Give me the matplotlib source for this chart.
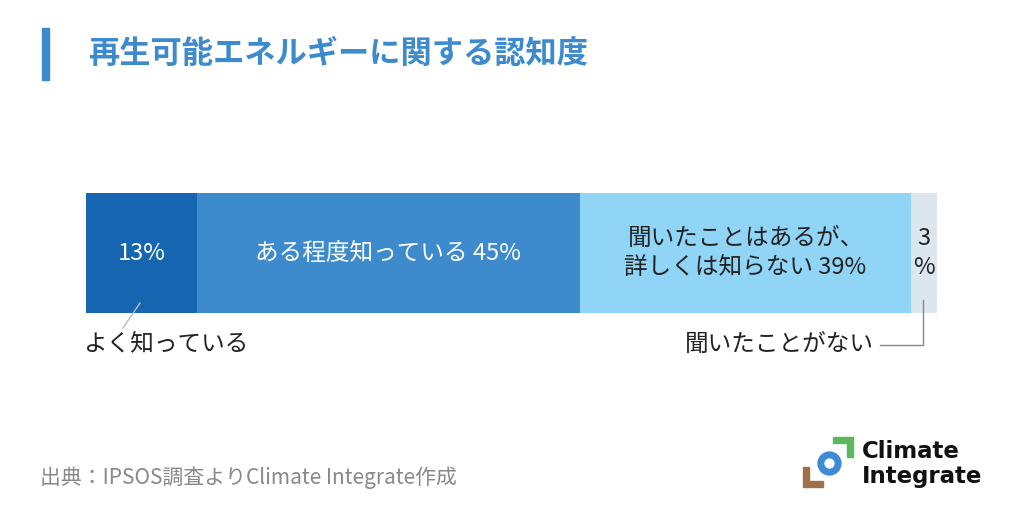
import matplotlib
matplotlib.use("Agg")
import matplotlib.pyplot as plt
from matplotlib.patches import Rectangle, Polygon
from matplotlib.lines import Line2D

plt.rcParams['font.family'] = ['Noto Sans CJK JP', 'DejaVu Sans']

categories = ["よく知っている", "ある程度知っている", "聞いたことはあるが、詳しくは知らない", "聞いたことがない"]
values = [13, 45, 39, 3]
labels = ["13%", "ある程度知っている 45%", "聞いたことはあるが、\n詳しくは知らない 39%", "3\n%"]
colors = ["#1565b0", "#3d8bcd", "#90d4f6", "#dce6ee"]
text_colors = ["white", "white", "#222222", "#222222"]

W, H = 1024, 512
fig = plt.figure(figsize=(W / 100, H / 100), dpi=100)

def fx(px):
    return px / W

def fy(py):
    return 1 - py / H

# title
fig.patches.append(Rectangle((fx(42), fy(80)), fx(7), 52 / H, transform=fig.transFigure,
                             color="#3d8bcd", zorder=3))
fig.text(fx(88), fy(54), "再生可能エネルギーに関する認知度", fontsize=22.5, fontweight="bold",
         color="#3d8bcd", va="center", ha="left")

# stacked bar
ax = fig.add_axes([fx(86), fy(313), fx(851), 120 / H])
left = 0
for v, lab, c, tc in zip(values, labels, colors, text_colors):
    ax.barh(0, v, left=left, height=1, color=c, edgecolor="none")
    ax.text(left + v / 2, 0, lab, ha="center", va="center", fontsize=17, color=tc,
            linespacing=1.3)
    left += v
ax.set_xlim(0, 100)
ax.set_ylim(-0.5, 0.5)
ax.axis("off")

# callouts
fig.add_artist(Line2D([fx(140), fx(123)], [fy(303), fy(328)], color="#bbbbbb", lw=1))
fig.text(fx(83), fy(344), categories[0], fontsize=17, color="#222222", va="center", ha="left")
fig.add_artist(Line2D([fx(923), fx(923), fx(880)], [fy(300), fy(345), fy(345)],
                      color="#888888", lw=1))
fig.text(fx(874), fy(344), categories[3], fontsize=17, color="#222222", va="center", ha="right")

# source
fig.text(fx(40), fy(478), "出典：IPSOS調査よりClimate Integrate作成", fontsize=15,
         color="#888888", va="center", ha="left")

# logo
green = Polygon([(fx(833), fy(437)), (fx(853), fy(437)), (fx(853), fy(457)), (fx(847), fy(457)),
                 (fx(847), fy(443)), (fx(833), fy(443))], closed=True, transform=fig.transFigure,
                color="#5cb85c")
brown = Polygon([(fx(803), fy(467)), (fx(809), fy(467)), (fx(809), fy(481)), (fx(823), fy(481)),
                 (fx(823), fy(487)), (fx(803), fy(487))], closed=True, transform=fig.transFigure,
                color="#a0704a")
fig.patches.extend([green, brown])
fig.add_artist(Line2D([fx(829)], [fy(463)], marker="o", markersize=12.5,
                      markerfacecolor="none", markeredgecolor="#3d8bd6", markeredgewidth=5,
                      transform=fig.transFigure))
fig.text(fx(862), fy(452), "Climate", fontsize=16.5, fontweight="bold", color="#111111",
         va="center", ha="left", family="DejaVu Sans")
fig.text(fx(862), fy(476), "Integrate", fontsize=16.5, fontweight="bold", color="#111111",
         va="center", ha="left", family="DejaVu Sans")

fig.savefig("out.png", dpi=100, facecolor="white")
